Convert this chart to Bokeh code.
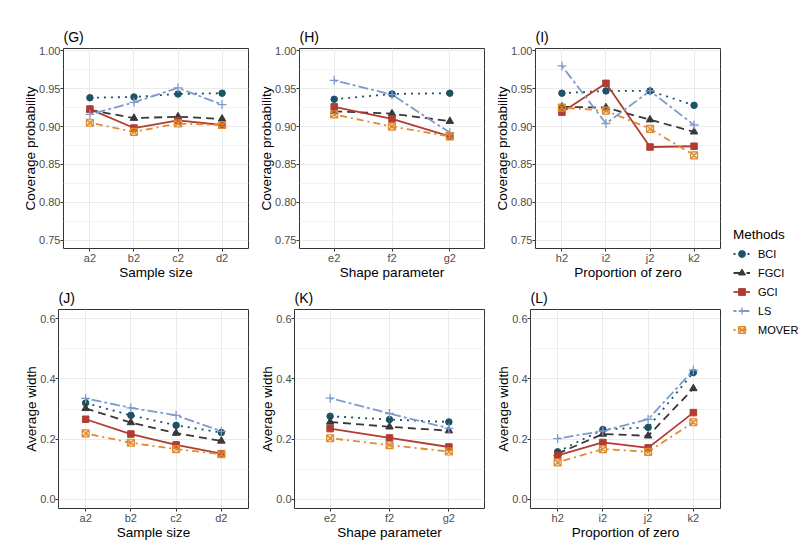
from bokeh.plotting import figure
from bokeh.models import Range1d, FixedTicker, Legend, LegendItem, PrintfTickFormatter
from bokeh.layouts import row, column
from bokeh.embed import file_html
from bokeh.resources import INLINE

methods = ["BCI", "FGCI", "GCI", "LS", "MOVER"]

sample_size = ["a2", "b2", "c2", "d2"]
shape_param = ["e2", "f2", "g2"]
prop_zero = ["h2", "i2", "j2", "k2"]

# (G) coverage probability vs sample size
G_BCI = [0.938, 0.939, 0.943, 0.944]
G_FGCI = [0.922, 0.911, 0.913, 0.910]
G_GCI = [0.923, 0.898, 0.908, 0.902]
G_LS = [0.916, 0.932, 0.951, 0.929]
G_MOVER = [0.905, 0.893, 0.904, 0.902]

# (H) coverage probability vs shape parameter
H_BCI = [0.936, 0.943, 0.944]
H_FGCI = [0.920, 0.917, 0.907]
H_GCI = [0.926, 0.910, 0.887]
H_LS = [0.961, 0.942, 0.892]
H_MOVER = [0.916, 0.900, 0.887]

# (I) coverage probability vs proportion of zero
I_BCI = [0.944, 0.947, 0.947, 0.928]
I_FGCI = [0.926, 0.925, 0.909, 0.893]
I_GCI = [0.919, 0.957, 0.873, 0.874]
I_LS = [0.980, 0.904, 0.947, 0.902]
I_MOVER = [0.925, 0.921, 0.897, 0.862]

# (J) average width vs sample size
J_BCI = [0.320, 0.279, 0.246, 0.222]
J_FGCI = [0.302, 0.255, 0.220, 0.194]
J_GCI = [0.266, 0.217, 0.181, 0.152]
J_LS = [0.335, 0.304, 0.279, 0.226]
J_MOVER = [0.219, 0.188, 0.167, 0.150]

# (K) average width vs shape parameter
K_BCI = [0.276, 0.265, 0.257]
K_FGCI = [0.257, 0.241, 0.228]
K_GCI = [0.235, 0.204, 0.174]
K_LS = [0.336, 0.285, 0.236]
K_MOVER = [0.203, 0.180, 0.159]

# (L) average width vs proportion of zero
L_BCI = [0.158, 0.232, 0.239, 0.421]
L_FGCI = [0.152, 0.217, 0.211, 0.368]
L_GCI = [0.146, 0.189, 0.171, 0.288]
L_LS = [0.202, 0.227, 0.266, 0.429]
L_MOVER = [0.123, 0.167, 0.158, 0.256]

cp_ticks = [0.75, 0.80, 0.85, 0.90, 0.95, 1.00]
cp_minor = [0.775, 0.825, 0.875, 0.925, 0.975]
aw_ticks = [0.0, 0.2, 0.4, 0.6]
aw_minor = [0.1, 0.3, 0.5]

FONT = "Liberation Sans"
STYLE = {
    "BCI": dict(color="#1D5267", dash="2 5", marker="circle", size=6.5),
    "FGCI": dict(color="#383838", dash="8 5", marker="triangle", size=7.5),
    "GCI": dict(color="#B13C32", dash="solid", marker="square", size=6.5),
    "LS": dict(color="#7F9BCB", dash="3 3 10 3", marker="cross", size=9),
    "MOVER": dict(color="#E08B2F", dash="2 4 7 4", marker="square_x", size=7),
}
LW = 1.8


def draw_series(p, xs, ys, m):
    st = STYLE[m]
    return p.line(xs, ys, line_color=st["color"], line_width=LW, line_dash=st["dash"])


def draw_points(p, xs, ys, m):
    st = STYLE[m]
    if m == "MOVER":
        r = p.scatter(xs, ys, marker=st["marker"], size=st["size"], line_color=st["color"],
                      fill_color=st["color"], fill_alpha=0.25, line_width=1.2)
    elif m == "LS":
        r = p.scatter(xs, ys, marker=st["marker"], size=st["size"], line_color=st["color"],
                      line_width=1.3)
    else:
        r = p.scatter(xs, ys, marker=st["marker"], size=st["size"], line_color=st["color"],
                      fill_color=st["color"], line_width=1)
    return r


def make_panel(title, cats, series, xlabel, ylabel, yr, yticks, yminor, fmt,
               fl, fw, fh, bt, bb):
    n = len(cats)
    p = figure(frame_width=fw, frame_height=fh,
               x_range=Range1d(0.4, n + 0.6), y_range=Range1d(*yr),
               toolbar_location=None, output_backend="svg",
               min_border_left=fl, min_border_right=2,
               min_border_top=bt, min_border_bottom=bb,
               title=title)
    p.background_fill_color = "white"
    p.border_fill_color = "white"
    p.outline_line_color = "#333333"
    p.outline_line_width = 1

    p.title.text_font = FONT
    p.title.text_font_size = "14px"
    p.title.text_font_style = "normal"
    p.title.text_color = "black"
    p.title.align = "left"
    p.title.standoff = 7
    p.title.offset = 0

    xt = FixedTicker(ticks=list(range(1, n + 1)))
    p.xaxis.ticker = xt
    p.xgrid.ticker = xt
    p.xaxis.major_label_overrides = {i + 1: c for i, c in enumerate(cats)}
    yt = FixedTicker(ticks=yticks, minor_ticks=yminor)
    p.yaxis.ticker = yt
    p.ygrid.ticker = yt
    p.yaxis.formatter = PrintfTickFormatter(format=fmt)

    for ax in (p.xaxis, p.yaxis):
        ax.axis_line_color = None
        ax.major_tick_line_color = "#333333"
        ax.major_tick_out = 3
        ax.major_tick_in = 0
        ax.minor_tick_out = 0
        ax.minor_tick_in = 0
        ax.major_label_text_font = FONT
        ax.major_label_text_font_size = "11px"
        ax.major_label_text_color = "#4D4D4D"
        ax.major_label_standoff = 0
        ax.axis_label_text_font = FONT
        ax.axis_label_text_font_size = "13.5px"
        ax.axis_label_text_font_style = "normal"
        ax.axis_label_text_color = "black"
        ax.axis_label_standoff = -2
    p.xaxis.axis_label = xlabel
    p.yaxis.axis_label = ylabel

    p.xgrid.grid_line_color = "#EBEBEB"
    p.ygrid.grid_line_color = "#EBEBEB"
    p.ygrid.minor_grid_line_color = "#F3F3F3"
    p.xgrid.grid_line_width = 1
    p.ygrid.grid_line_width = 1

    xs = list(range(1, n + 1))
    for m in methods:
        draw_series(p, xs, series[m], m)
    for m in methods:
        draw_points(p, xs, series[m], m)
    return p


cp_range = (0.739, 1.003)
aw_range = (-0.03, 0.63)

pG = make_panel("(G)", sample_size,
                {"BCI": G_BCI, "FGCI": G_FGCI, "GCI": G_GCI, "LS": G_LS, "MOVER": G_MOVER},
                "Sample size", "Coverage probability", cp_range, cp_ticks, cp_minor, "%.2f",
                63, 185, 200, 48, 36)
pH = make_panel("(H)", shape_param,
                {"BCI": H_BCI, "FGCI": H_FGCI, "GCI": H_GCI, "LS": H_LS, "MOVER": H_MOVER},
                "Shape parameter", "Coverage probability", cp_range, cp_ticks, cp_minor, "%.2f",
                49, 185, 200, 48, 36)
pI = make_panel("(I)", prop_zero,
                {"BCI": I_BCI, "FGCI": I_FGCI, "GCI": I_GCI, "LS": I_LS, "MOVER": I_MOVER},
                "Proportion of zero", "Coverage probability", cp_range, cp_ticks, cp_minor, "%.2f",
                49, 185, 200, 48, 36)
pJ = make_panel("(J)", sample_size,
                {"BCI": J_BCI, "FGCI": J_FGCI, "GCI": J_GCI, "LS": J_LS, "MOVER": J_MOVER},
                "Sample size", "Average width", aw_range, aw_ticks, aw_minor, "%.1f",
                58, 190, 199, 25, 40)
pK = make_panel("(K)", shape_param,
                {"BCI": K_BCI, "FGCI": K_FGCI, "GCI": K_GCI, "LS": K_LS, "MOVER": K_MOVER},
                "Shape parameter", "Average width", aw_range, aw_ticks, aw_minor, "%.1f",
                44, 190, 199, 25, 40)
pL = make_panel("(L)", prop_zero,
                {"BCI": L_BCI, "FGCI": L_FGCI, "GCI": L_GCI, "LS": L_LS, "MOVER": L_MOVER},
                "Proportion of zero", "Average width", aw_range, aw_ticks, aw_minor, "%.1f",
                44, 190, 199, 25, 40)

# Legend panel
pleg = figure(width=79, height=548, toolbar_location=None, output_backend="svg",
              x_range=Range1d(0, 1), y_range=Range1d(0, 1),
              min_border_left=0, min_border_right=0, min_border_top=0, min_border_bottom=0)
pleg.axis.visible = False
pleg.grid.visible = False
pleg.outline_line_color = None
pleg.background_fill_color = "white"
pleg.border_fill_color = "white"
items = []
for m in methods:
    ln = draw_series(pleg, [-5, -4], [-5, -5], m)
    pt = draw_points(pleg, [-5], [-5], m)
    items.append(LegendItem(label=m, renderers=[ln, pt]))
leg = Legend(items=items, location=(11, 210), margin=0, padding=0,
             title="Methods", title_text_font=FONT, title_text_font_size="13.5px",
             title_text_font_style="normal", title_text_color="black", title_standoff=3,
             label_text_font=FONT, label_text_font_size="11px", label_text_color="black",
             glyph_width=17, glyph_height=17, label_height=17, label_standoff=8, spacing=2,
             border_line_color=None, background_fill_alpha=0)
pleg.add_layout(leg, "center")

layout = row(column(row(pG, pH, pI), row(pJ, pK, pL)), pleg)

open("out.html", "w").write(file_html(layout, INLINE))
